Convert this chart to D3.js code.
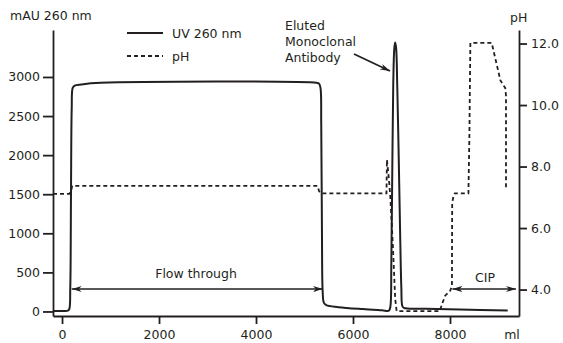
<!DOCTYPE html>
<html>
<head>
<meta charset="utf-8">
<script src="https://cdn.jsdelivr.net/npm/d3@7"></script>
<style>
  body { margin: 0; background: #fff; }
  svg text { font-family: "DejaVu Sans", sans-serif; font-size: 12.5px; fill: #231f20; }
</style>
</head>
<body>
<div id="chart"></div>
<script>
// UV 260 nm trace: [volume ml, mAU]
const uvData = [
  [-186, 5], [50, 6], [120, 10], [150, 30], [170, 300], [185, 1500], [200, 2600],
  [220, 2860], [260, 2890], [400, 2905], [800, 2925], [5250, 2925], [5300, 2915],
  [5330, 2860], [5345, 2400], [5360, 1000], [5375, 250], [5400, 110], [5450, 80],
  [5700, 55], [6200, 30], [6600, 15], [6740, 10], [6770, 60], [6790, 600],
  [6810, 1800], [6830, 2900], [6850, 3350], [6868, 3440], [6888, 3380],
  [6912, 2900], [6942, 2000], [6972, 1000], [6997, 300], [7017, 70], [7050, 45],
  [7500, 35], [8200, 25], [9190, 12]
];

// pH trace: [volume ml, pH]
const phData = [
  [-186, 7.11], [150, 7.11], [185, 7.2], [210, 7.37], [5270, 7.37], [5300, 7.2],
  [5340, 7.13], [6690, 7.13], [6700, 8.22], [6740, 7.6], [6770, 7.0],
  [6820, 5.5], [6870, 3.7], [6900, 3.3], [7790, 3.3], [7830, 3.5], [7900, 3.8],
  [8000, 3.95], [8040, 4.1], [8045, 6.8], [8070, 7.03], [8100, 7.13],
  [8380, 7.13], [8400, 9.0], [8420, 12.02], [8860, 12.02], [9040, 10.8],
  [9140, 10.55], [9155, 10.3], [9155, 7.24]
];

const xTicks = [0, 2000, 4000, 6000, 8000];
const uvTicks = [0, 500, 1000, 1500, 2000, 2500, 3000];
const phTicks = [4, 6, 8, 10, 12];
const legendLabels = ["UV 260 nm", "pH"];
const peakLabel = ["Eluted", "Monoclonal", "Antibody"];

const W = 563, H = 343;
const ink = "#231f20";

const svg = d3.select("#chart").append("svg")
  .attr("width", W).attr("height", H);

const defs = svg.append("defs");
defs.append("marker")
  .attr("id", "arr")
  .attr("viewBox", "0 0 10 6")
  .attr("refX", 10).attr("refY", 3)
  .attr("markerWidth", 10).attr("markerHeight", 6)
  .attr("markerUnits", "userSpaceOnUse")
  .attr("orient", "auto-start-reverse")
  .append("path")
  .attr("d", "M0,0 L10,3 L0,6 L3,3 Z")
  .attr("fill", ink);

const x = d3.scaleLinear().domain([-186, 9423]).range([53, 519]);
const yUV = d3.scaleLinear().domain([-58, 3601]).range([316, 30]);
const yPH = d3.scaleLinear().domain([3.14, 12.44]).range([316, 30]);

// axes
const styleAxis = (g) => {
  g.select(".domain").attr("stroke", ink).attr("stroke-width", 1.8);
  g.selectAll(".tick line").attr("stroke", ink).attr("stroke-width", 1.8);
  g.selectAll(".tick text").attr("fill", ink).attr("font-size", null).attr("font-family", null);
};

svg.append("g")
  .attr("transform", "translate(0,316)")
  .call(d3.axisBottom(x).tickValues(xTicks).tickSize(8).tickSizeOuter(0).tickPadding(6)
    .tickFormat(d3.format("d")))
  .call(styleAxis);

svg.append("g")
  .attr("transform", "translate(53,0)")
  .call(d3.axisLeft(yUV).tickValues(uvTicks).tickSize(10).tickSizeOuter(0).tickPadding(3)
    .tickFormat(d3.format("d")))
  .call(styleAxis);

svg.append("g")
  .attr("transform", "translate(519,0)")
  .call(d3.axisRight(yPH).tickValues(phTicks).tickSize(8).tickSizeOuter(0).tickPadding(4)
    .tickFormat(d3.format(".1f")))
  .call(styleAxis);

// axis titles
svg.append("text").attr("x", 10).attr("y", 20).text("mAU 260 nm");
svg.append("text").attr("x", 510).attr("y", 22).text("pH");
svg.append("text").attr("x", 512).attr("y", 339).attr("text-anchor", "middle").text("ml");

// lines
const uvLine = d3.line().x((d) => x(d[0])).y((d) => yUV(d[1])).curve(d3.curveCatmullRom.alpha(0.5));
const phLine = d3.line().x((d) => x(d[0])).y((d) => yPH(d[1]));

svg.append("path")
  .datum(phData)
  .attr("fill", "none")
  .attr("stroke", ink)
  .attr("stroke-width", 1.8)
  .attr("stroke-dasharray", "4,3")
  .attr("d", phLine);

svg.append("path")
  .datum(uvData)
  .attr("fill", "none")
  .attr("stroke", ink)
  .attr("stroke-width", 2)
  .attr("stroke-linejoin", "round")
  .attr("d", uvLine);

// legend
const legend = svg.append("g");
legendLabels.forEach((lab, i) => {
  const ly = 33 + i * 23;
  legend.append("line")
    .attr("x1", 127).attr("x2", 163).attr("y1", ly).attr("y2", ly)
    .attr("stroke", ink).attr("stroke-width", 2)
    .attr("stroke-dasharray", i === 1 ? "4,3" : null);
  legend.append("text").attr("x", 172).attr("y", ly + 4.5).text(lab);
});

// peak annotation
peakLabel.forEach((t, i) => {
  svg.append("text").attr("x", 285).attr("y", 29.5 + i * 16).text(t);
});
svg.append("line")
  .attr("x1", 354).attr("y1", 54).attr("x2", 390).attr("y2", 71)
  .attr("stroke", ink).attr("stroke-width", 1.8)
  .attr("marker-end", "url(#arr)");

// flow through range
svg.append("line")
  .attr("x1", x(200)).attr("x2", x(5380)).attr("y1", 289).attr("y2", 289)
  .attr("stroke", ink).attr("stroke-width", 1.3)
  .attr("marker-start", "url(#arr)").attr("marker-end", "url(#arr)");
svg.append("text").attr("x", 196).attr("y", 278).attr("text-anchor", "middle").text("Flow through");

// CIP range
svg.append("line")
  .attr("x1", x(8050)).attr("x2", x(9360)).attr("y1", 289).attr("y2", 289)
  .attr("stroke", ink).attr("stroke-width", 1.3)
  .attr("marker-start", "url(#arr)").attr("marker-end", "url(#arr)");
svg.append("text").attr("x", 485).attr("y", 282).attr("text-anchor", "middle").text("CIP");
</script>
</body>
</html>
